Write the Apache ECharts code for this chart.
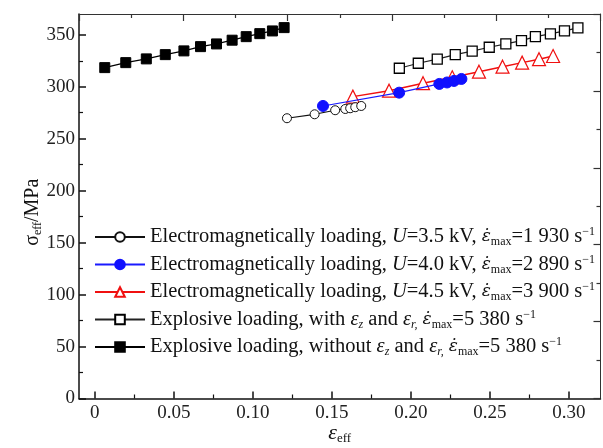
<!DOCTYPE html>
<html>
<head>
<meta charset="utf-8">
<style>
  html, body { margin: 0; padding: 0; background: #fff; }
  #chart { width: 603px; height: 448px; }
</style>
<script src="https://cdn.jsdelivr.net/npm/echarts@6/dist/echarts.min.js"></script>
</head>
<body>
<div id="chart"></div>
<script>
// U = 3.5 kV
const strainEM35 = [0.1216, 0.1391, 0.1521, 0.1585, 0.1616, 0.1648, 0.1686];
const stressEM35 = [269.7, 273.5, 277.4, 278.6, 279.3, 280.3, 281.5];
// U = 4.0 kV
const strainEM40 = [0.1444, 0.1926, 0.2180, 0.2229, 0.2273, 0.2320];
const stressEM40 = [281.5, 294.3, 302.7, 304.1, 305.6, 307.5];
// U = 4.5 kV
const strainEM45 = [0.1633, 0.1862, 0.2077, 0.2262, 0.2431, 0.2580, 0.2704, 0.2811, 0.2900];
const stressEM45 = [290.5, 296.2, 303.4, 309.1, 314.5, 319.3, 323.2, 326.5, 329.6];
// explosive, with ez and er
const strainExpWith = [0.1927, 0.2047, 0.2167, 0.2281, 0.2388, 0.2496, 0.2601, 0.2700, 0.2788, 0.2883, 0.2972, 0.3057];
const stressExpWith = [317.8, 322.6, 326.5, 330.9, 334.2, 338.0, 341.2, 344.4, 348.2, 350.8, 353.7, 356.6];
// explosive, without ez and er
const strainExpWithout = [0.0063, 0.0196, 0.0326, 0.0446, 0.0564, 0.0669, 0.0770, 0.0869, 0.0958, 0.1044, 0.1124, 0.1198];
const stressExpWithout = [318.4, 323.2, 326.8, 330.9, 334.5, 338.6, 341.2, 344.8, 348.2, 351.1, 353.7, 356.9];

const xMajorTicks = [0, 0.05, 0.10, 0.15, 0.20, 0.25, 0.30];
const xTickLabels = ['0', '0.05', '0.10', '0.15', '0.20', '0.25', '0.30'];
const xMinorTicks = [0.025, 0.075, 0.125, 0.175, 0.225, 0.275];
const yMajorTicks = [0, 50, 100, 150, 200, 250, 300, 350];
const yMinorTicks = [25, 75, 125, 175, 225, 275, 325];

const seriesNames = [
  'EM 3.5 kV', 'EM 4.0 kV', 'EM 4.5 kV', 'Explosive with', 'Explosive without'
];
const legendTexts = [
  '{t|Electromagnetically loading, }{i|U}{t|=3.5 kV, }{d|ε̇}{sub|max}{t|=1 930 s}{sup|−1}',
  '{t|Electromagnetically loading, }{i|U}{t|=4.0 kV, }{d|ε̇}{sub|max}{t|=2 890 s}{sup|−1}',
  '{t|Electromagnetically loading, }{i|U}{t|=4.5 kV, }{d|ε̇}{sub|max}{t|=3 900 s}{sup|−1}',
  '{t|Explosive loading, with }{i|ε}{subi|z}{t| and }{i|ε}{subi|r,}{t| }{d|ε̇}{sub|max}{t|=5 380 s}{sup|−1}',
  '{t|Explosive loading, without }{i|ε}{subi|z}{t| and }{i|ε}{subi|r,}{t| }{d|ε̇}{sub|max}{t|=5 380 s}{sup|−1}'
];

const zip = (xs, ys) => xs.map((x, i) => [x, ys[i]]);
const serif = 'Liberation Serif';
const plotRect = { left: 79, right: 2.5, top: 14, bottom: 49.5, outerBoundsMode: 'none', containLabel: false };

const chart = echarts.init(document.getElementById('chart'));
chart.setOption({
  animation: false,
  backgroundColor: '#fff',
  textStyle: { fontFamily: serif },
  // second grid only carries the minor ticks of the left / bottom axes
  grid: [Object.assign({}, plotRect), Object.assign({}, plotRect)],
  legend: {
    orient: 'vertical',
    left: 94,
    top: 226,
    padding: 0,
    itemWidth: 50,
    itemHeight: 12,
    itemGap: 5.5,
    data: seriesNames,
    formatter: name => legendTexts[seriesNames.indexOf(name)],
    textStyle: {
      fontFamily: serif,
      color: '#111',
      rich: {
        t: { fontFamily: serif, fontSize: 20.5, lineHeight: 22, color: '#111' },
        i: { fontFamily: serif, fontSize: 20.5, lineHeight: 22, fontStyle: 'italic', color: '#111' },
        d: { fontFamily: 'DejaVu Serif', fontSize: 17, lineHeight: 22, fontStyle: 'italic', color: '#111' },
        sub: { fontFamily: serif, fontSize: 12, lineHeight: 10, verticalAlign: 'bottom', color: '#111' },
        subi: { fontFamily: serif, fontSize: 12, lineHeight: 10, verticalAlign: 'bottom', fontStyle: 'italic', color: '#111' },
        sup: { fontFamily: serif, fontSize: 12, lineHeight: 14, verticalAlign: 'top', color: '#111' }
      }
    }
  },
  xAxis: [
    {
      type: 'value',
      gridIndex: 0,
      min: -0.01,
      max: 0.32,
      name: '{e|ε}{s|eff}',
      nameLocation: 'middle',
      nameGap: 23,
      nameMoveOverlap: false,
      nameTextStyle: {
        rich: {
          e: { fontFamily: serif, fontSize: 22, lineHeight: 24, fontStyle: 'italic', color: '#111' },
          s: { fontFamily: serif, fontSize: 13, lineHeight: 10, verticalAlign: 'bottom', color: '#111' }
        }
      },
      axisLine: { show: true, onZero: false, lineStyle: { color: '#111', width: 1.5 } },
      axisTick: { inside: true, length: 7, customValues: xMajorTicks, lineStyle: { color: '#111', width: 1.5 } },
      axisLabel: {
        customValues: xMajorTicks,
        formatter: v => xTickLabels[xMajorTicks.findIndex(t => Math.abs(t - v) < 1e-9)],
        fontFamily: serif, fontSize: 19, color: '#222', margin: 5
      },
      splitLine: { show: false }
    },
    {
      type: 'value',
      gridIndex: 0,
      position: 'top',
      min: 0, max: 10, interval: 2,
      axisLine: { show: true, onZero: false, lineStyle: { color: '#333', width: 1 } },
      axisTick: { inside: true, length: 7, lineStyle: { color: '#333', width: 1.2 } },
      minorTick: { show: true, splitNumber: 2, length: 4, lineStyle: { color: '#333', width: 1.2 } },
      axisLabel: { show: false },
      splitLine: { show: false }
    },
    {
      type: 'value',
      gridIndex: 1,
      position: 'bottom',
      min: -0.01,
      max: 0.32,
      axisLine: { show: false, onZero: false },
      axisTick: { show: true, inside: true, length: 4, customValues: xMinorTicks, lineStyle: { color: '#111', width: 1.2 } },
      axisLabel: { show: false },
      splitLine: { show: false }
    }
  ],
  yAxis: [
    {
      type: 'value',
      gridIndex: 0,
      min: 0,
      max: 370,
      name: '{s|σ}{b|eff}{s|/MPa}',
      nameLocation: 'middle',
      nameGap: 35,
      nameMoveOverlap: false,
      nameRotate: 90,
      nameTextStyle: {
        padding: [0, 12, 0, 0],
        rich: {
          s: { fontFamily: serif, fontSize: 20, lineHeight: 22, color: '#111' },
          b: { fontFamily: serif, fontSize: 12, lineHeight: 10, verticalAlign: 'bottom', color: '#111' }
        }
      },
      axisLine: { show: true, onZero: false, lineStyle: { color: '#111', width: 1.5 } },
      axisTick: { inside: true, length: 7, customValues: yMajorTicks, lineStyle: { color: '#111', width: 1.5 } },
      axisLabel: { customValues: yMajorTicks, fontFamily: serif, fontSize: 19, color: '#222', margin: 4 },
      splitLine: { show: false }
    },
    {
      type: 'value',
      gridIndex: 0,
      position: 'right',
      min: 0, max: 10, interval: 2,
      axisLine: { show: true, onZero: false, lineStyle: { color: '#333', width: 1 } },
      axisTick: { inside: true, length: 7, lineStyle: { color: '#333', width: 1.2 } },
      minorTick: { show: true, splitNumber: 2, length: 4, lineStyle: { color: '#333', width: 1.2 } },
      axisLabel: { show: false },
      splitLine: { show: false }
    },
    {
      type: 'value',
      gridIndex: 1,
      position: 'left',
      min: 0,
      max: 370,
      axisLine: { show: false, onZero: false },
      axisTick: { show: true, inside: true, length: 4, customValues: yMinorTicks, lineStyle: { color: '#111', width: 1.2 } },
      axisLabel: { show: false },
      splitLine: { show: false }
    }
  ],
  series: [
    {
      name: seriesNames[4],
      type: 'line',
      data: zip(strainExpWithout, stressExpWithout),
      symbol: 'rect', symbolSize: 10,
      lineStyle: { color: '#000', width: 1.2 },
      itemStyle: { color: '#000', borderColor: '#000', borderWidth: 1 },
      z: 2
    },
    {
      name: seriesNames[3],
      type: 'line',
      data: zip(strainExpWith, stressExpWith),
      symbol: 'rect', symbolSize: 10,
      lineStyle: { color: '#222', width: 1.2 },
      itemStyle: { color: '#fff', borderColor: '#000', borderWidth: 1.3 },
      z: 2
    },
    {
      name: seriesNames[2],
      type: 'line',
      data: zip(strainEM45, stressEM45),
      symbol: 'triangle', symbolSize: 13,
      lineStyle: { color: '#f01010', width: 1.5 },
      itemStyle: { color: '#fff', borderColor: '#f01010', borderWidth: 1.2 },
      z: 3
    },
    {
      name: seriesNames[1],
      type: 'line',
      data: zip(strainEM40, stressEM40),
      symbol: 'circle', symbolSize: 11,
      lineStyle: { color: '#1a1aff', width: 1.2 },
      itemStyle: { color: '#1010ff', borderColor: '#1010ff', borderWidth: 1 },
      z: 4
    },
    {
      name: seriesNames[0],
      type: 'line',
      data: zip(strainEM35, stressEM35),
      symbol: 'circle', symbolSize: 9,
      lineStyle: { color: '#111', width: 1.2 },
      itemStyle: { color: '#fff', borderColor: '#111', borderWidth: 1 },
      z: 5
    }
  ]
});
</script>
</body>
</html>
